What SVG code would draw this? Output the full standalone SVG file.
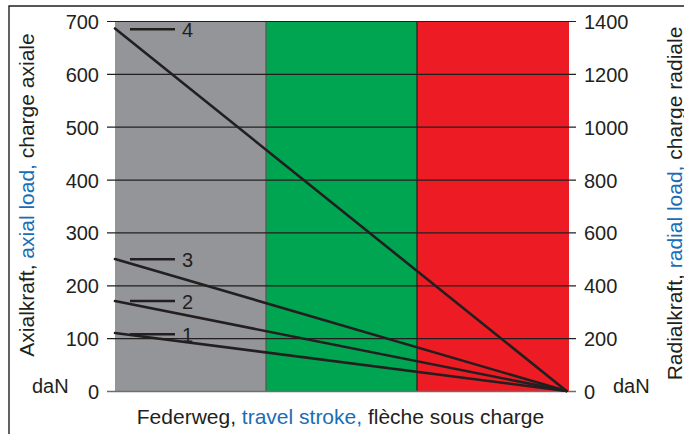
<svg xmlns="http://www.w3.org/2000/svg" width="684" height="434" viewBox="0 0 684 434">
<style>
text{font-family:"Liberation Sans",Arial,sans-serif;fill:#231f20}
.t{font-size:20px}
.ti{font-size:21px}
.l{text-anchor:end}
.b{fill:#1a6db5}
.grid{stroke:#231f20;stroke-width:1.2}
.curve{stroke:#231f20;stroke-width:2.6;fill:none;stroke-linecap:round}
.leg{stroke:#231f20;stroke-width:2.6}
</style>
<rect width="684" height="434" fill="#fff"/>
<path d="M9,434 V6 H684" fill="none" stroke="#231f20" stroke-width="1.4"/>
<g id="bands">
<rect x="115" y="21.5" width="151" height="370" fill="#939598"/>
<rect x="266" y="21.5" width="151" height="370" fill="#00a551"/>
<rect x="417" y="21.5" width="152" height="370" fill="#ed1c24"/>
<line x1="266" y1="21.5" x2="266" y2="391.5" stroke="#555" stroke-width="1.2"/>
<line x1="417" y1="21.5" x2="417" y2="391.5" stroke="#231f20" stroke-width="1.2"/>
</g>
<g id="grid">
<line class="grid" x1="107" y1="21.5" x2="576" y2="21.5"/>
<line class="grid" x1="107" y1="74.4" x2="576" y2="74.4"/>
<line class="grid" x1="107" y1="127.2" x2="576" y2="127.2"/>
<line class="grid" x1="107" y1="180.1" x2="576" y2="180.1"/>
<line class="grid" x1="107" y1="232.9" x2="576" y2="232.9"/>
<line class="grid" x1="107" y1="285.8" x2="576" y2="285.8"/>
<line class="grid" x1="107" y1="338.6" x2="576" y2="338.6"/>
<line x1="107" y1="391.5" x2="576" y2="391.5" stroke="#6d6e71" stroke-width="1.6"/>
</g>
<g id="left-axis">
<text class="t l" x="99" y="29">700</text>
<text class="t l" x="99" y="82">600</text>
<text class="t l" x="99" y="134.5">500</text>
<text class="t l" x="99" y="187.5">400</text>
<text class="t l" x="99" y="240">300</text>
<text class="t l" x="99" y="293">200</text>
<text class="t l" x="99" y="346">100</text>
<text class="t l" x="99" y="398.5">0</text>
<text class="t" x="32" y="393">daN</text>
<text class="ti" transform="translate(33.5,195) rotate(-90)" text-anchor="middle">Axialkraft, <tspan class="b">axial load,</tspan> charge axiale</text>
</g>
<g id="right-axis">
<text class="t" x="584" y="29">1400</text>
<text class="t" x="584" y="82">1200</text>
<text class="t" x="584" y="134.5">1000</text>
<text class="t" x="584" y="187.5">800</text>
<text class="t" x="584" y="240">600</text>
<text class="t" x="584" y="293">400</text>
<text class="t" x="584" y="346">200</text>
<text class="t" x="584" y="398.5">0</text>
<text class="t" x="613" y="393">daN</text>
<text class="ti" transform="translate(681.5,203.5) rotate(-90)" text-anchor="middle">Radialkraft, <tspan class="b">radial load,</tspan> charge radiale</text>
</g>
<text class="ti" x="340.5" y="424" text-anchor="middle">Federweg, <tspan class="b">travel stroke,</tspan> flèche sous charge</text>
<g id="connectors">
<line class="curve" x1="115" y1="28.5" x2="566.5" y2="391"/>
<line class="curve" x1="115" y1="259" x2="566.5" y2="391"/>
<line class="curve" x1="115" y1="301" x2="566.5" y2="391"/>
<line class="curve" x1="115" y1="333" x2="566.5" y2="391"/>
</g>
<g id="legend-4"><line class="leg" x1="130" y1="29.3" x2="175" y2="29.3"/><text class="t" x="182" y="36.5">4</text></g>
<g id="legend-3"><line class="leg" x1="130" y1="259.3" x2="175" y2="259.3"/><text class="t" x="182" y="266.5">3</text></g>
<g id="legend-2"><line class="leg" x1="130" y1="301" x2="175" y2="301"/><text class="t" x="182" y="308.5">2</text></g>
<g id="legend-1"><line class="leg" x1="130" y1="334.3" x2="175" y2="334.3"/><text class="t" x="182" y="341.5">1</text></g>
</svg>
